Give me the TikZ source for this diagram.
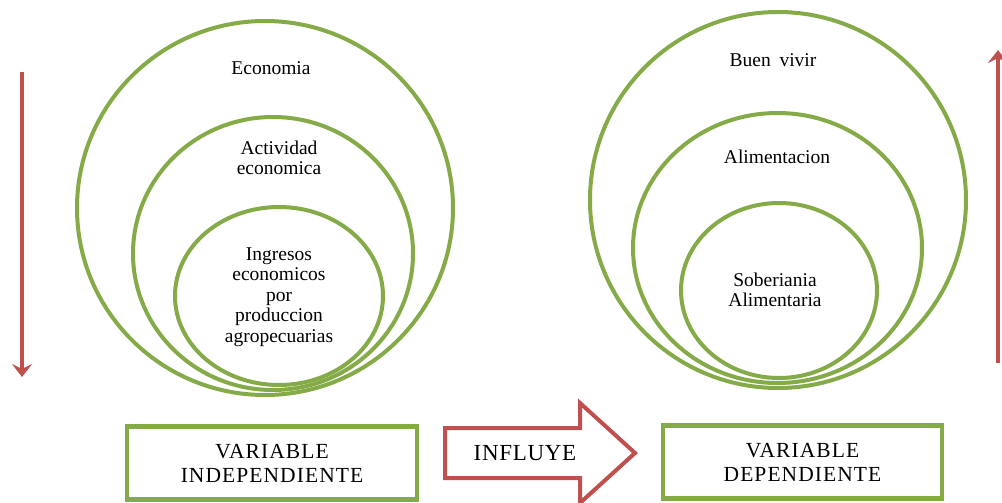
\documentclass[tikz,border=0pt]{standalone}
\usepackage{fontspec}
\setmainfont{Liberation Serif}
\usetikzlibrary{shapes.geometric,arrows.meta}
\definecolor{verde}{RGB}{133,170,72}
\definecolor{rojo}{RGB}{192,80,77}

\begin{document}
\begin{tikzpicture}[x=1pt,y=-1pt,
  aro/.style={ellipse,draw=verde,line width=4pt,inner sep=0pt},
  texto/.style={align=center,font=\fontsize{19.5}{20.5}\selectfont},
  varcaja/.style={draw=verde,line width=4.5pt,minimum height=73pt,align=center,font=\fontsize{21.5}{24}\selectfont\addfontfeature{LetterSpace=5}},
  flecha/.style={rojo,line width=3.5pt,-{Stealth[length=13pt,width=20pt,inset=5pt]}}]
\useasboundingbox (0,0) rectangle (1002,503);
% circulos de la variable independiente
\node[aro,minimum width=376pt,minimum height=374pt](eco) at (265,208){};
\node[aro,minimum width=280pt,minimum height=273pt](act) at (273,253.5){};
\node[aro,minimum width=208pt,minimum height=178pt](ing) at (279,296){};
% circulos de la variable dependiente
\node[aro,minimum width=376pt,minimum height=376pt](buen) at (778,200){};
\node[aro,minimum width=289pt,minimum height=270pt](alim) at (777.5,248){};
\node[aro,minimum width=196pt,minimum height=175pt](sob) at (779,290.5){};
% textos
\node[texto](teco) at (271,68){Economia};
\node[texto](tact) at (279,158){Actividad\\economica};
\node[texto](ting) at (279,297){Ingresos\\economicos\\por\\produccion\\agropecuarias};
\node[texto](tbuen) at (773,60){Buen\hspace{0.45em}vivir};
\node[texto](talim) at (777,157){Alimentacion};
\node[texto](tsob) at (775,290){Soberiania\\Alimentaria};
% variables
\node[varcaja,minimum width=290pt](vi) at (272,463){VARIABLE\\INDEPENDIENTE};
\node[varcaja,minimum width=279pt](vd) at (802.5,462){VARIABLE\\DEPENDIENTE};
\draw[rojo,line width=4pt,line join=miter] (445,428) -- (580,428) -- (580,403) -- (635,453) -- (580,503) -- (580,478) -- (445,478) -- cycle;
\node[font=\fontsize{23}{24}\selectfont\addfontfeature{LetterSpace=3}](infl) at (525,453){INFLUYE};
% flechas laterales
\coordinate (a1) at (22,72);
\coordinate (a2) at (22,377);
\coordinate (b1) at (998,363);
\coordinate (b2) at (998,50);
\foreach \from/\to in {a1/a2,b1/b2}
  \draw[flecha] (\from) -- (\to);
\end{tikzpicture}
\end{document}
